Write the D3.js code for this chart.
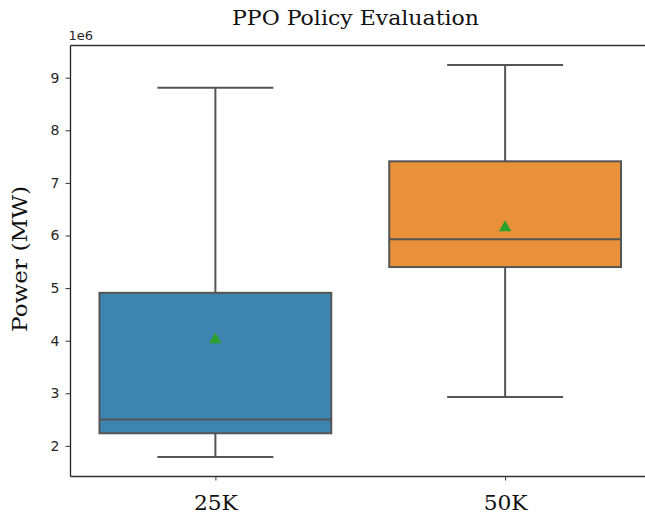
<!DOCTYPE html>
<html>
<head>
<meta charset="utf-8">
<script src="https://cdn.jsdelivr.net/npm/d3@7"></script>
<style>
  html, body { margin: 0; padding: 0; background: #fff; }
  svg { display: block; }
</style>
</head>
<body>
<svg id="chart" width="645" height="516"></svg>
<script>
// Box-plot summary for each training budget (values in MW)
const categories = ["25K", "50K"];
const whiskerLow  = [1.79e6, 2.93e6];
const q1          = [2.24e6, 5.40e6];
const median      = [2.50e6, 5.93e6];
const q3          = [4.91e6, 7.41e6];
const whiskerHigh = [8.81e6, 9.24e6];
const mean        = [4.02e6, 6.15e6];
const boxColors   = ["#3d85b0", "#e8913a"];
const yTicks      = [2e6, 3e6, 4e6, 5e6, 6e6, 7e6, 8e6, 9e6];

const boxes = categories.map((c, i) => ({
  cat: c, lo: whiskerLow[i], q1: q1[i], med: median[i], q3: q3[i],
  hi: whiskerHigh[i], mean: mean[i], color: boxColors[i]
}));

const svg = d3.select("#chart");
const margin = { left: 70.5, top: 45.5, right: -5, bottom: 39.5 };
const W = 645, H = 516;
const x0 = margin.left, x1 = W - margin.right;
const y0 = H - margin.bottom, y1 = margin.top;

// categorical axis: -0.5 .. 1.5 as in a standard box plot layout
const x = d3.scaleLinear().domain([-0.5, 1.5]).range([x0, x1]);
const y = d3.scaleLinear().domain([1.418e6, 9.612e6]).range([y0, y1]);

const lineColor = "#555555";
const serif = "'DejaVu Serif', serif";
const boxHalf = 0.4, capHalf = 0.2;

// axes
const yAxis = d3.axisLeft(y).tickValues(yTicks).tickFormat(d => d / 1e6).tickSize(5).tickPadding(6);
const gy = svg.append("g").attr("transform", `translate(${x0},0)`).call(yAxis);
gy.select(".domain").remove();
gy.selectAll(".tick line").attr("stroke", "#333").attr("stroke-width", 1);
gy.selectAll(".tick text").attr("fill", "#262626").style("font-family", "DejaVu Sans, sans-serif").style("font-size", "14px");

const xAxis = d3.axisBottom(x).tickValues([0, 1]).tickFormat(i => categories[i]).tickSize(4).tickPadding(15);
const gx = svg.append("g").attr("transform", `translate(0,${y0})`).call(xAxis);
gx.select(".domain").remove();
gx.selectAll(".tick line").attr("stroke", "#333").attr("stroke-width", 1);
gx.selectAll(".tick text").attr("fill", "#111")
  .attr("textLength", 44).attr("lengthAdjust", "spacingAndGlyphs")
  .style("font-family", serif).style("font-size", "21px");

// spines
svg.append("line").attr("x1", x0).attr("x2", x0).attr("y1", y0).attr("y2", y1)
  .attr("stroke", "#222").attr("stroke-width", 1.3);
svg.append("line").attr("x1", x0).attr("x2", x1).attr("y1", y0).attr("y2", y0)
  .attr("stroke", "#333").attr("stroke-width", 1.3);
svg.append("line").attr("x1", x0).attr("x2", x1).attr("y1", y1).attr("y2", y1)
  .attr("stroke", "#333").attr("stroke-width", 1.3);

// boxes
const g = svg.append("g");
boxes.forEach((b, i) => {
  const cx = x(i);
  // whiskers
  g.append("line").attr("x1", cx).attr("x2", cx).attr("y1", y(b.q3)).attr("y2", y(b.hi))
    .attr("stroke", lineColor).attr("stroke-width", 2);
  g.append("line").attr("x1", cx).attr("x2", cx).attr("y1", y(b.q1)).attr("y2", y(b.lo))
    .attr("stroke", lineColor).attr("stroke-width", 2);
  // caps
  [b.hi, b.lo].forEach(v => {
    g.append("line").attr("x1", x(i - capHalf)).attr("x2", x(i + capHalf))
      .attr("y1", y(v)).attr("y2", y(v)).attr("stroke", lineColor).attr("stroke-width", 2);
  });
  // box
  g.append("rect").attr("x", x(i - boxHalf)).attr("width", x(i + boxHalf) - x(i - boxHalf))
    .attr("y", y(b.q3)).attr("height", y(b.q1) - y(b.q3))
    .attr("fill", b.color).attr("stroke", lineColor).attr("stroke-width", 2);
  // median
  g.append("line").attr("x1", x(i - boxHalf)).attr("x2", x(i + boxHalf))
    .attr("y1", y(b.med)).attr("y2", y(b.med)).attr("stroke", lineColor).attr("stroke-width", 2);
  // mean marker
  g.append("path").attr("d", d3.symbol().type(d3.symbolTriangle).size(68)())
    .attr("transform", `translate(${cx},${y(b.mean)})`).attr("fill", "#2ca02c");
});

// offset text for the y axis
svg.append("text").attr("x", x0 - 2).attr("y", 40).text("1e6")
  .attr("fill", "#262626").style("font-family", "DejaVu Sans, sans-serif").style("font-size", "13px");

// title
svg.append("text").attr("x", 355.5).attr("y", 25).attr("text-anchor", "middle")
  .attr("textLength", 247).attr("lengthAdjust", "spacingAndGlyphs")
  .text("PPO Policy Evaluation")
  .attr("fill", "#111").style("font-family", serif).style("font-size", "20px");

// y label
svg.append("text").attr("transform", "translate(27,259) rotate(-90)").attr("text-anchor", "middle")
  .attr("textLength", 146).attr("lengthAdjust", "spacingAndGlyphs")
  .text("Power (MW)")
  .attr("fill", "#111").style("font-family", serif).style("font-size", "20px");
</script>
</body>
</html>
